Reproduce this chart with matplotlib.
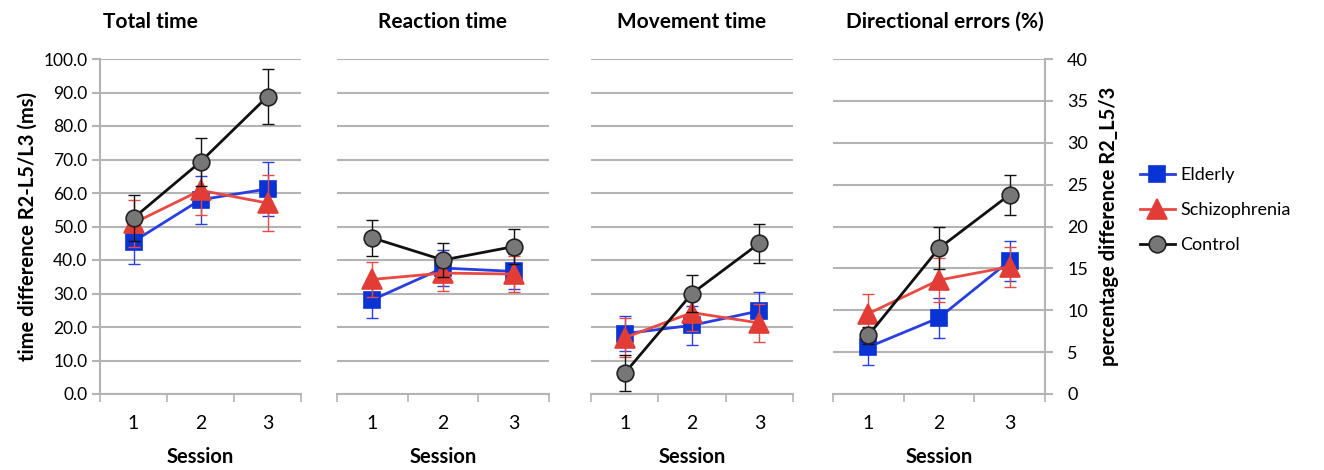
import numpy as np
import matplotlib.pyplot as plt
from matplotlib.ticker import FormatStrFormatter, MultipleLocator

plt.rcParams['font.family'] = ['Lato', 'DejaVu Sans']

sessions = [1, 2, 3]
groups = ['Elderly', 'Schizophrenia', 'Control']
titles = ['Total time', 'Reaction time', 'Movement time', 'Directional errors (%)']

# means per group, one list per panel
elderly_mean = [[45.5, 58.0, 61.2], [28.1, 37.6, 36.6], [18.0, 20.5, 24.8], [5.6, 9.1, 15.9]]
schizo_mean = [[51.0, 60.8, 57.0], [34.2, 36.1, 35.8], [16.8, 24.3, 21.2], [9.6, 13.6, 15.2]]
control_mean = [[52.5, 69.3, 88.8], [46.6, 40.0, 44.0], [6.2, 30.0, 45.0], [7.0, 17.4, 23.8]]

# error bars (+/-)
elderly_err = [[6.7, 7.2, 8.2], [5.4, 5.4, 5.2], [5.2, 5.8, 5.7], [2.1, 2.4, 2.4]]
schizo_err = [[7.0, 7.3, 8.4], [5.3, 5.5, 5.4], [5.8, 5.5, 5.6], [2.3, 2.6, 2.4]]
control_err = [[6.9, 7.2, 8.3], [5.3, 5.2, 5.2], [5.4, 5.6, 5.8], [1.0, 2.5, 2.4]]

means = [elderly_mean, schizo_mean, control_mean]
errs = [elderly_err, schizo_err, control_err]

styles = {
    'Elderly': dict(color='#2a3fe0', marker='s', mfc='#0a33d6', mec='#0a33d6', ms=11),
    'Schizophrenia': dict(color='#ea4a44', marker='^', mfc='#e23c36', mec='#e23c36', ms=14),
    'Control': dict(color='#111111', marker='o', mfc='#777777', mec='#222222', ms=12),
}

W, H = 1324, 470
fig = plt.figure(figsize=(W / 100, H / 100), dpi=100)

boxes = [(100, 301), (337, 549), (591, 793), (833, 1045)]
top_px, bot_px = 59, 394
grid_c = '#b4b4b4'
axes = []
for i, (x0, x1) in enumerate(boxes):
    ax = fig.add_axes([x0 / W, 1 - bot_px / H, (x1 - x0) / W, (bot_px - top_px) / H])
    axes.append(ax)
    for g, name in enumerate(groups):
        st = styles[name]
        ax.errorbar(sessions, means[g][i], yerr=errs[g][i], fmt='none',
                    ecolor=st['color'], elinewidth=1, capsize=4, capthick=1,
                    zorder=3 + g)
        ax.plot(sessions, means[g][i], color=st['color'], lw=2,
                marker=st['marker'], ms=st['ms'], mfc=st['mfc'], mec=st['mec'],
                mew=1.2, label=name, zorder=3 + g)
    ax.set_xlim(0.5, 3.5)
    if i < 3:
        ax.set_ylim(0, 100)
        ax.yaxis.set_major_locator(MultipleLocator(10))
        ax.yaxis.set_major_formatter(FormatStrFormatter('%.1f'))
    else:
        ax.set_ylim(0, 40)
        ax.yaxis.set_major_locator(MultipleLocator(5))
    ax.set_xticks(sessions)
    ax.set_xticks([0.5, 1.5, 2.5, 3.5], minor=True)
    ax.tick_params(axis='x', which='major', length=0, labelsize=14, pad=15)
    ax.tick_params(axis='x', which='minor', length=6, width=1.2, color=grid_c)
    ax.yaxis.grid(True, color=grid_c, lw=1.5)
    ax.set_axisbelow(True)
    for s in ['top', 'left', 'right']:
        ax.spines[s].set_visible(False)
    ax.spines['bottom'].set_color(grid_c)
    ax.spines['bottom'].set_linewidth(1.5)
    ax.set_xlabel('Session', fontsize=14.5, fontweight='bold', labelpad=11)
    if i == 0:
        ax.spines['left'].set_visible(True)
        ax.spines['left'].set_color(grid_c)
        ax.spines['left'].set_linewidth(1.5)
        ax.tick_params(axis='y', length=6, width=1.5, color=grid_c, labelsize=12.5, pad=3)
        ax.set_ylabel('time difference R2-L5/L3 (ms)', fontsize=14.5, fontweight='bold', labelpad=4)
    elif i == 3:
        ax.spines['right'].set_visible(True)
        ax.spines['right'].set_color(grid_c)
        ax.spines['right'].set_linewidth(1.5)
        ax.yaxis.tick_right()
        ax.yaxis.set_label_position('right')
        ax.tick_params(axis='y', length=6, width=1.5, color=grid_c, labelsize=13, pad=10)
        ax.set_ylabel('percentage difference R2_L5/3', fontsize=14.5, fontweight='bold', labelpad=8)
    else:
        ax.tick_params(axis='y', length=0, labelleft=False)

title_x = [150, 443, 692, 945]
for tx, t in zip(title_x, titles):
    fig.text(tx / W, 1 - 22 / H, t, ha='center', va='center', fontsize=15, fontweight='bold')

handles, labels = axes[0].get_legend_handles_labels()
fig.legend(handles, labels, loc='upper left', bbox_to_anchor=(1133 / W, 1 - 160 / H),
           frameon=False, fontsize=13, handlelength=1.9, handletextpad=0.3,
           labelspacing=1.05, borderaxespad=0)

fig.savefig('out.png', dpi=100)
